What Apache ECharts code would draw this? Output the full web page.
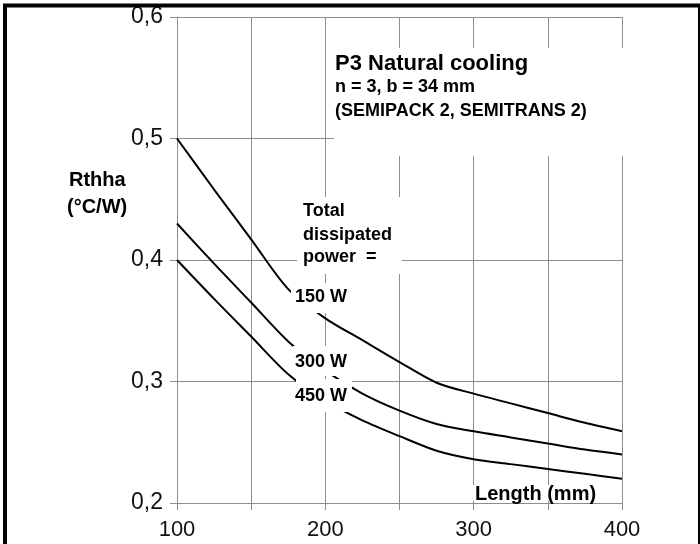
<!DOCTYPE html>
<html>
<head>
<meta charset="utf-8">
<script src="https://cdn.jsdelivr.net/npm/echarts@6/dist/echarts.min.js"></script>
<style>
  html, body { margin: 0; padding: 0; background: #fff; }
  #chart { width: 700px; height: 544px; }
</style>
</head>
<body>
<div id="chart"></div>
<script>
// heatsink length (mm)
const lengths = [100, 125, 150, 175, 200, 225, 250, 275, 300, 325, 350, 375, 400]
// Rthha (°C/W) per total dissipated power
const p150 = [0.5, 0.458, 0.417, 0.376, 0.352, 0.334, 0.316, 0.299, 0.29, 0.282, 0.274, 0.266, 0.259]
const p300 = [0.43, 0.397, 0.365, 0.333, 0.309, 0.29, 0.276, 0.265, 0.259, 0.254, 0.249, 0.244, 0.24]
const p450 = [0.4, 0.368, 0.337, 0.306, 0.284, 0.268, 0.255, 0.243, 0.236, 0.232, 0.228, 0.224, 0.22]
const xTickLabels = [100, 200, 300, 400]

const FONT = '"Liberation Sans", Arial, sans-serif'
const GRID = '#8e8e8e'

function pairs(ys) {
  return lengths.map((x, i) => [x, ys[i]])
}

function curve(name, ys) {
  return {
    name: name,
    type: 'line',
    data: pairs(ys),
    symbol: 'none',
    smooth: 0.3,
    lineStyle: { color: '#000', width: 2 }
  }
}

// white box + text (labels sit on top of grid lines and curves)
function box(x, y, w, h) {
  return { type: 'rect', z: 100, shape: { x: x, y: y, width: w, height: h }, style: { fill: '#fff' } }
}
function txt(x, y, text, size) {
  return {
    type: 'text', z: 101, x: x, y: y,
    style: { text: text, font: 'bold ' + size + 'px ' + FONT, fill: '#000' }
  }
}

const chart = echarts.init(document.getElementById('chart'))
chart.setOption({
  animation: false,
  backgroundColor: '#fff',
  grid: { left: 177, right: 78, top: 17, bottom: 41 },
  xAxis: {
    type: 'value',
    min: 100,
    max: 400,
    interval: 50,
    axisLine: { show: true, lineStyle: { color: GRID, width: 1 } },
    axisTick: { show: true, length: 7, lineStyle: { color: GRID } },
    splitLine: { show: true, lineStyle: { color: GRID, width: 1 } },
    axisLabel: {
      margin: 16,
      color: '#111',
      fontSize: 22,
      fontFamily: FONT,
      formatter: (v) => (xTickLabels.includes(v) ? String(v) : '')
    }
  },
  yAxis: {
    type: 'value',
    min: 0.2,
    max: 0.6,
    interval: 0.1,
    axisLine: { show: true, lineStyle: { color: GRID, width: 1 } },
    axisTick: { show: true, length: 7, lineStyle: { color: GRID } },
    splitLine: { show: true, lineStyle: { color: GRID, width: 1 } },
    axisLabel: {
      margin: 14,
      color: '#111',
      fontSize: 23,
      fontFamily: FONT,
      formatter: (v) => v.toFixed(1).replace('.', ',')
    }
  },
  series: [
    curve('150 W', p150),
    curve('300 W', p300),
    curve('450 W', p450)
  ],
  graphic: {
    elements: [
      // title block
      box(334, 48, 297, 108),
      txt(335, 53, 'P3 Natural cooling', 22),
      txt(335, 78, 'n = 3, b = 34 mm', 18),
      txt(335, 102, '(SEMIPACK 2, SEMITRANS 2)', 18),
      // power note
      box(297, 197, 105, 77),
      txt(303, 202, 'Total', 18),
      txt(303, 226, 'dissipated', 18),
      txt(303, 248, 'power  =', 18),
      // curve labels
      box(291, 283, 59, 30),
      txt(295, 288, '150 W', 18),
      box(293, 346, 57, 30),
      txt(295, 353, '300 W', 18),
      box(296, 379, 56, 33),
      txt(295, 387, '450 W', 18),
      // axis titles
      box(473, 485, 128, 16),
      txt(475, 484, 'Length (mm)', 20),
      txt(69, 170, 'Rthha', 20),
      txt(67, 197, '(°C/W)', 20),
      // frame
      {
        type: 'rect', z: 110,
        shape: { x: 5, y: 5.5, width: 695, height: 700 },
        style: { fill: 'none', stroke: '#000', lineWidth: 4 }
      }
    ]
  }
})
</script>
</body>
</html>
